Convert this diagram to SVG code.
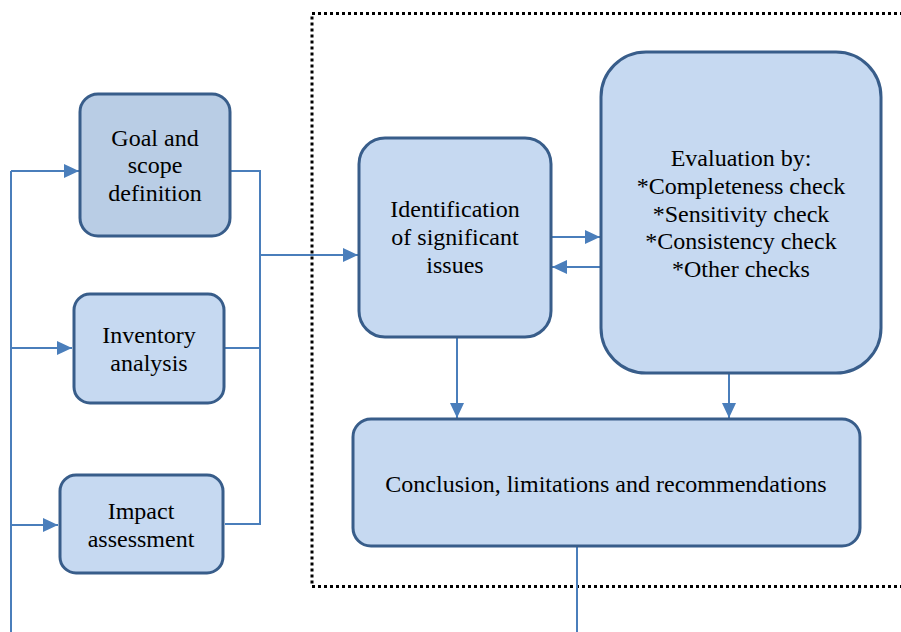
<svg xmlns="http://www.w3.org/2000/svg" width="901" height="632" viewBox="0 0 901 632">
  <defs>
    <marker id="arr" viewBox="0 0 15 14" refX="15" refY="7" markerWidth="15" markerHeight="14" markerUnits="userSpaceOnUse" orient="auto">
      <path d="M0,0 L15,7 L0,14 Z" fill="#4a7ebb"/>
    </marker>
    <style>
      .node { fill: #c6d9f1; stroke: #385d8a; stroke-width: 3; }
      .node.dark { fill: #b9cde5; }
      .lbl { font-family: "Liberation Serif", "Times New Roman", serif; font-size: 24px; fill: #000; text-anchor: middle; }
      .wire { fill: none; stroke: #4a7ebb; stroke-width: 2; }
      .frame { fill: none; stroke: #000; stroke-width: 3; stroke-dasharray: 3 3; }
    </style>
  </defs>

  <rect class="frame" x="312" y="13.5" width="600" height="573"/>

  <g id="connectors">
    <!-- feedback bus on the left -->
    <path class="wire" d="M11,632 V171"/>
    <path class="wire" d="M11,171 H79" marker-end="url(#arr)"/>
    <path class="wire" d="M11,348 H72" marker-end="url(#arr)"/>
    <path class="wire" d="M11,525 H58" marker-end="url(#arr)"/>
    <!-- phase outputs collected on the right -->
    <path class="wire" d="M231,171 H260 V524 H225"/>
    <path class="wire" d="M225,348 H260"/>
    <path class="wire" d="M260,255 H358" marker-end="url(#arr)"/>
    <!-- interpretation loop -->
    <path class="wire" d="M552,237 H600" marker-end="url(#arr)"/>
    <path class="wire" d="M600,267 H552" marker-end="url(#arr)"/>
    <path class="wire" d="M457,338 V418" marker-end="url(#arr)"/>
    <path class="wire" d="M729,374 V418" marker-end="url(#arr)"/>
    <path class="wire" d="M577,547 V632"/>
  </g>

  <g id="goal">
    <rect class="node dark" x="80" y="94" width="150" height="142" rx="18"/>
    <text class="lbl" x="155" y="146">Goal and</text>
    <text class="lbl" x="155" y="173">scope</text>
    <text class="lbl" x="155" y="201">definition</text>
  </g>

  <g id="inventory">
    <rect class="node" x="74" y="294" width="150" height="109" rx="16"/>
    <text class="lbl" x="149" y="343">Inventory</text>
    <text class="lbl" x="149" y="371">analysis</text>
  </g>

  <g id="impact">
    <rect class="node" x="60" y="475" width="163" height="98" rx="16"/>
    <text class="lbl" x="141" y="519">Impact</text>
    <text class="lbl" x="141" y="547">assessment</text>
  </g>

  <g id="identification">
    <rect class="node" x="359" y="138" width="192" height="199" rx="26"/>
    <text class="lbl" x="455" y="217">Identification</text>
    <text class="lbl" x="455" y="245">of significant</text>
    <text class="lbl" x="455" y="273">issues</text>
  </g>

  <g id="evaluation">
    <rect class="node" x="601" y="52" width="280" height="321" rx="45"/>
    <text class="lbl" x="741" y="166">Evaluation by:</text>
    <text class="lbl" x="741" y="194">*Completeness check</text>
    <text class="lbl" x="741" y="222">*Sensitivity check</text>
    <text class="lbl" x="741" y="249">*Consistency check</text>
    <text class="lbl" x="741" y="277">*Other checks</text>
  </g>

  <g id="conclusion">
    <rect class="node" x="353" y="419" width="507" height="127" rx="18"/>
    <text class="lbl" x="606" y="492">Conclusion, limitations and recommendations</text>
  </g>
</svg>
